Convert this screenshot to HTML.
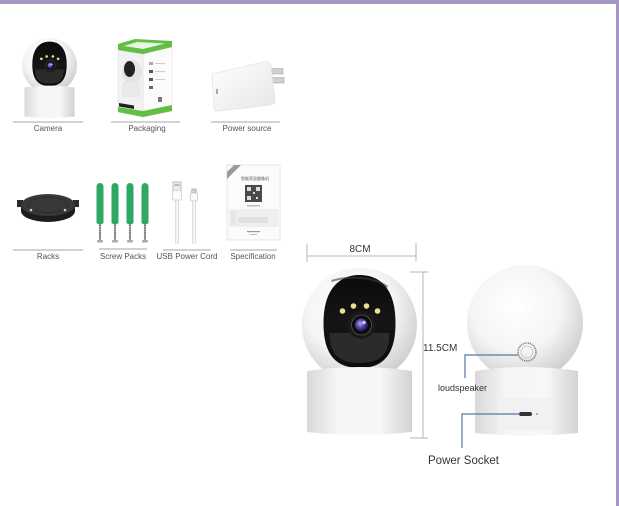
<!DOCTYPE html>
<html><head><meta charset="utf-8"><style>
html,body{margin:0;padding:0;background:#fff;}
body{width:619px;height:506px;overflow:hidden;}
svg{display:block;}
text{font-family:"Liberation Sans","Noto Sans CJK SC",sans-serif;}
</style></head><body>
<svg width="619" height="506" viewBox="0 0 619 506" xmlns="http://www.w3.org/2000/svg">
<defs>
  <radialGradient id="ball" cx="42%" cy="36%" r="64%">
    <stop offset="0" stop-color="#ffffff"/>
    <stop offset="0.6" stop-color="#f5f5f5"/>
    <stop offset="1" stop-color="#d0d0d0"/>
  </radialGradient>
  <linearGradient id="base" x1="0" y1="0" x2="1" y2="0">
    <stop offset="0" stop-color="#d9d9d9"/>
    <stop offset="0.3" stop-color="#f6f6f6"/>
    <stop offset="0.7" stop-color="#f7f7f7"/>
    <stop offset="1" stop-color="#d2d2d2"/>
  </linearGradient>
  <linearGradient id="face" x1="0" y1="0" x2="0" y2="1">
    <stop offset="0" stop-color="#0a0a0a"/>
    <stop offset="0.5" stop-color="#151515"/>
    <stop offset="1" stop-color="#0c0c0c"/>
  </linearGradient>
  <radialGradient id="lens" cx="40%" cy="40%" r="60%">
    <stop offset="0" stop-color="#b7a6f0"/>
    <stop offset="0.5" stop-color="#5a46a8"/>
    <stop offset="1" stop-color="#1c1440"/>
  </radialGradient>
  <linearGradient id="adapter" x1="0" y1="0" x2="1" y2="1">
    <stop offset="0" stop-color="#ffffff"/>
    <stop offset="1" stop-color="#e6e6e6"/>
  </linearGradient>
</defs>

<rect width="619" height="506" fill="#fff"/>
<rect x="0" y="0" width="619" height="4" fill="#a596c6"/>
<rect x="616" y="0" width="3" height="506" fill="#a596c6"/>

<!-- ===== Small camera (top left) ===== -->
<g transform="translate(49.5,65.5) scale(0.478)">
  <circle r="57.5" fill="url(#ball)"/>
  <path d="M-36,-2 C-36,-36 -20,-50 0,-50 C21,-50 36,-36 36,-2 C36,24 28,43 0,43 C-28,43 -36,24 -36,-2Z" fill="url(#face)"/>
  <path d="M-30,8 L30,8 C30,28 22,38 0,38 C-22,38 -30,28 -30,8Z" fill="#2b2b2b"/>
  <circle cx="2" cy="0" r="14" fill="#1a1a1a"/>
  <circle cx="2" cy="0" r="10" fill="#0b0b0b" stroke="#555" stroke-width="0.8"/>
  <circle cx="2" cy="0" r="6.5" fill="url(#lens)"/>
  <circle cx="4.5" cy="-2.5" r="1.8" fill="#fff" opacity="0.7"/>
  <circle cx="-6" cy="-19" r="2.8" fill="#e9dd9a"/>
  <circle cx="7" cy="-19" r="2.8" fill="#e9dd9a"/>
  <circle cx="-17" cy="-14" r="2.8" fill="#e9dd9a"/>
  <circle cx="18" cy="-14" r="2.8" fill="#e9dd9a"/>
  <path d="M-52.5,46 Q0,38 52.5,46 L52.5,107 Q0,113 -52.5,107 Z" fill="url(#base)"/>
</g>
<line x1="13" y1="122" x2="83" y2="122" stroke="#888" stroke-width="0.8"/>
<text x="48" y="131" text-anchor="middle" font-size="8" fill="#555">Camera</text>

<!-- ===== Packaging ===== -->
<g>
  <polygon points="118,50 143,54 143,117 118,112" fill="#f2f2f2" stroke="#d8d8d8" stroke-width="0.5"/>
  <polygon points="143,54 172,47 172,111 143,117" fill="#fbfbfb" stroke="#dcdcdc" stroke-width="0.5"/>
  <polygon points="118,44 135,39 172,41 172,47 143,54 118,50" fill="#63be45"/>
  <polygon points="124,46 137,42 165,43.5 143,49" fill="#e9f6e4"/>
  <polygon points="118,107 143,111 143,117 118,112" fill="#63be45"/>
  <polygon points="143,111 172,105 172,111 143,117" fill="#63be45"/>
  <ellipse cx="132" cy="72" rx="10" ry="12" fill="#e4e4e4"/>
  <ellipse cx="129.5" cy="69" rx="5.5" ry="8" fill="#222"/>
  <rect x="122" y="82" width="18" height="15" fill="#e9e9e9"/>
  <polygon points="119,103 134,105.5 134,109 119,106.5" fill="#222"/>
  <rect x="149" y="62" width="4" height="3" fill="#aaa"/>
  <rect x="149" y="70" width="4" height="3" fill="#555"/>
  <rect x="149" y="78" width="4" height="3" fill="#555"/>
  <rect x="149" y="86" width="4" height="3" fill="#666"/>
  <rect x="155" y="63" width="10" height="1" fill="#ccc"/>
  <rect x="155" y="71" width="10" height="1" fill="#ccc"/>
  <rect x="155" y="79" width="10" height="1" fill="#ccc"/>
  <rect x="158" y="97" width="4" height="5" fill="#777"/>
</g>
<line x1="111" y1="122" x2="180" y2="122" stroke="#888" stroke-width="0.8"/>
<text x="147" y="131" text-anchor="middle" font-size="8" fill="#555">Packaging</text>

<!-- ===== Power source ===== -->
<g>
  <rect x="270" y="68.5" width="13" height="5.5" fill="#d0d0d0" stroke="#999" stroke-width="0.5"/>
  <rect x="271" y="77.5" width="13" height="5.5" fill="#d0d0d0" stroke="#999" stroke-width="0.5"/>
  <path d="M212,74 L263,62 Q270,61 271,65 L275,100 Q275,104 270,105 L219,111 Q214,112 214,108 Z" fill="url(#adapter)" stroke="#dedede" stroke-width="0.6"/>
  <rect x="216" y="89" width="2" height="5" fill="#aaa"/>
</g>
<line x1="211" y1="122" x2="280" y2="122" stroke="#888" stroke-width="0.8"/>
<text x="247" y="131" text-anchor="middle" font-size="8" fill="#555">Power source</text>

<!-- ===== Racks ===== -->
<g>
  <rect x="17" y="200" width="6" height="7" fill="#2a2a2a"/>
  <rect x="73" y="200" width="6" height="7" fill="#2a2a2a"/>
  <path d="M21,205 L21,211 A27 11 0 0 0 75 211 L75 205 Z" fill="#1c1c1c"/>
  <ellipse cx="48" cy="205" rx="27" ry="11" fill="#383838"/>
  <ellipse cx="48" cy="205" rx="20" ry="7.5" fill="none" stroke="#2a2a2a" stroke-width="0.8"/>
  <circle cx="31" cy="210" r="1.3" fill="#ccc"/>
  <circle cx="65" cy="210" r="1.3" fill="#ccc"/>
</g>
<line x1="13" y1="250" x2="83" y2="250" stroke="#888" stroke-width="0.8"/>
<text x="48" y="259" text-anchor="middle" font-size="8" fill="#555">Racks</text>

<!-- ===== Screw packs ===== -->
<g>
  <g>
    <line x1="100" y1="218" x2="100" y2="240" stroke="#a8a8a8" stroke-width="2"/>
    <line x1="100" y1="218" x2="100" y2="240" stroke="#666" stroke-width="2.2" stroke-dasharray="0.8 1.6"/>
    <rect x="97" y="240" width="6" height="2.5" rx="1" fill="#aaa"/>
    <path d="M96.5,223 L96.5,186.5 A3.5 3.5 0 0 1 103.5,186.5 L103.5,223 Q100,226 96.5,223Z" fill="#2ea862"/>
  </g>
  <g>
    <line x1="115" y1="218" x2="115" y2="240" stroke="#a8a8a8" stroke-width="2"/>
    <line x1="115" y1="218" x2="115" y2="240" stroke="#666" stroke-width="2.2" stroke-dasharray="0.8 1.6"/>
    <rect x="112" y="240" width="6" height="2.5" rx="1" fill="#aaa"/>
    <path d="M111.5,223 L111.5,186.5 A3.5 3.5 0 0 1 118.5,186.5 L118.5,223 Q115,226 111.5,223Z" fill="#2ea862"/>
  </g>
  <g>
    <line x1="130" y1="218" x2="130" y2="240" stroke="#a8a8a8" stroke-width="2"/>
    <line x1="130" y1="218" x2="130" y2="240" stroke="#666" stroke-width="2.2" stroke-dasharray="0.8 1.6"/>
    <rect x="127" y="240" width="6" height="2.5" rx="1" fill="#aaa"/>
    <path d="M126.5,223 L126.5,186.5 A3.5 3.5 0 0 1 133.5,186.5 L133.5,223 Q130,226 126.5,223Z" fill="#2ea862"/>
  </g>
  <g>
    <line x1="145" y1="218" x2="145" y2="240" stroke="#a8a8a8" stroke-width="2"/>
    <line x1="145" y1="218" x2="145" y2="240" stroke="#666" stroke-width="2.2" stroke-dasharray="0.8 1.6"/>
    <rect x="142" y="240" width="6" height="2.5" rx="1" fill="#aaa"/>
    <path d="M141.5,223 L141.5,186.5 A3.5 3.5 0 0 1 148.5,186.5 L148.5,223 Q145,226 141.5,223Z" fill="#2ea862"/>
  </g>
</g>
<line x1="99" y1="249" x2="147" y2="249" stroke="#888" stroke-width="0.8"/>
<text x="123" y="259" text-anchor="middle" font-size="8" fill="#555">Screw Packs</text>

<!-- ===== USB cord ===== -->
<g>
  <rect x="175.5" y="199" width="3" height="44" fill="#f4f4f4" stroke="#c4c4c4" stroke-width="0.5"/>
  <rect x="173" y="182" width="8" height="9" fill="#ececec" stroke="#999" stroke-width="0.6"/>
  <rect x="174.5" y="184" width="5" height="2" fill="#bbb"/>
  <rect x="172.5" y="190.5" width="9" height="9.5" rx="1" fill="#fafafa" stroke="#bbb" stroke-width="0.6"/>
  <rect x="192.5" y="200" width="3" height="43" fill="#f4f4f4" stroke="#c4c4c4" stroke-width="0.5"/>
  <rect x="191.8" y="189" width="4.4" height="4" fill="#d0d0d0" stroke="#888" stroke-width="0.5"/>
  <rect x="190.5" y="193" width="7" height="8" rx="1" fill="#fafafa" stroke="#bbb" stroke-width="0.6"/>
</g>
<line x1="163" y1="250" x2="211" y2="250" stroke="#888" stroke-width="0.8"/>
<text x="187" y="259" text-anchor="middle" font-size="8" fill="#555">USB Power Cord</text>

<!-- ===== Specification ===== -->
<g>
  <rect x="227" y="165" width="53" height="75" fill="#fbfbfb" stroke="#d8d8d8" stroke-width="0.6"/>
  <polygon points="227,172 234,165 241,165 227,179" fill="#9a9a9a"/>
  <text x="241" y="180" font-size="4" fill="#555" font-family="'Liberation Sans','Noto Sans CJK SC',sans-serif">智能家居摄像机</text>
  <rect x="245" y="185" width="17" height="17" fill="#4a4a4a"/>
  <rect x="247" y="187" width="4" height="4" fill="#ddd"/>
  <rect x="256" y="187" width="4" height="4" fill="#ddd"/>
  <rect x="247" y="196" width="4" height="4" fill="#ddd"/>
  <rect x="253" y="192" width="2" height="2" fill="#ddd"/>
  <rect x="256" y="197" width="2" height="2" fill="#ddd"/>
  <rect x="247" y="205" width="13" height="1.5" fill="#bbb"/>
  <rect x="229" y="209" width="49" height="18" fill="#efefef"/>
  <rect x="238" y="217" width="30" height="6" rx="1.5" fill="#e0e0e0"/>
  <rect x="231" y="211" width="5" height="14" fill="#e6e6e6"/>
  <rect x="247" y="231" width="13" height="1.2" fill="#999"/>
  <rect x="250" y="234" width="7" height="1" fill="#bbb"/>
</g>
<line x1="230" y1="250" x2="277" y2="250" stroke="#888" stroke-width="0.8"/>
<text x="253" y="259" text-anchor="middle" font-size="8" fill="#555">Specification</text>

<!-- ===== Dimension lines ===== -->
<g stroke="#a9b7c6" stroke-width="1" fill="none">
  <line x1="307" y1="256" x2="416" y2="256"/>
  <line x1="307" y1="244" x2="307" y2="262"/>
  <line x1="416" y1="243" x2="416" y2="261"/>
  <line x1="423" y1="272" x2="423" y2="438"/>
  <line x1="410" y1="272" x2="428" y2="272"/>
  <line x1="410" y1="438" x2="428" y2="438"/>
</g>
<text x="360" y="252" text-anchor="middle" font-size="10" fill="#333">8CM</text>
<text x="423" y="351" font-size="10" fill="#333">11.5CM</text>

<!-- ===== Big front camera ===== -->
<g transform="translate(359.5,325)">
  <circle r="57.5" fill="url(#ball)"/>
  <path d="M-36,-2 C-36,-36 -20,-50 0,-50 C21,-50 36,-36 36,-2 C36,24 28,43 0,43 C-28,43 -36,24 -36,-2Z" fill="url(#face)"/>
  <path d="M-30,8 L30,8 C30,28 22,38 0,38 C-22,38 -30,28 -30,8Z" fill="#2b2b2b"/>
  <path d="M-28,-44 C-10,-50 15,-48 28,-38" stroke="#3a3a3a" stroke-width="2" fill="none" opacity="0.6"/>
  <circle cx="2" cy="0" r="14" fill="#1a1a1a"/>
  <circle cx="2" cy="0" r="10" fill="#0b0b0b" stroke="#555" stroke-width="0.8"/>
  <circle cx="2" cy="0" r="6.5" fill="url(#lens)"/>
  <circle cx="4.5" cy="-2.5" r="1.8" fill="#fff" opacity="0.7"/>
  <circle cx="-6" cy="-19" r="2.8" fill="#e9dd9a"/>
  <circle cx="7" cy="-19" r="2.8" fill="#e9dd9a"/>
  <circle cx="-17" cy="-14" r="2.8" fill="#e9dd9a"/>
  <circle cx="18" cy="-14" r="2.8" fill="#e9dd9a"/>
  <path d="M-52.5,46 Q0,38 52.5,46 L52.5,107 Q0,113 -52.5,107 Z" fill="url(#base)"/>
</g>

<!-- ===== Rear camera ===== -->
<g transform="translate(525,323)">
  <circle r="58" fill="url(#ball)"/>
  <path d="M-50,48 Q0,40 53,48 L53,110 Q0,115 -50,110 Z" fill="url(#base)"/>
  <rect x="-27" y="75" width="55" height="32" fill="#f1f1f1"/>
  <circle cx="2" cy="29" r="9" fill="none" stroke="#6f6f6f" stroke-width="1.6" stroke-dasharray="0.9 0.9"/>
  <circle cx="2" cy="29" r="6" fill="none" stroke="#bdbdbd" stroke-width="0.7"/>
  <rect x="-6" y="89" width="13" height="4" rx="2" fill="#333"/>
  <circle cx="12" cy="91" r="0.8" fill="#666"/>
</g>

<!-- ===== Callouts ===== -->
<path d="M518,355 H465 V378" stroke="#5577a8" stroke-width="1.2" fill="none"/>
<path d="M520,414 H462 V448" stroke="#5577a8" stroke-width="1.2" fill="none"/>
<text x="438" y="391" font-size="9" fill="#333">loudspeaker</text>
<text x="428" y="464" font-size="11.5" fill="#333">Power Socket</text>
</svg>
</body></html>
